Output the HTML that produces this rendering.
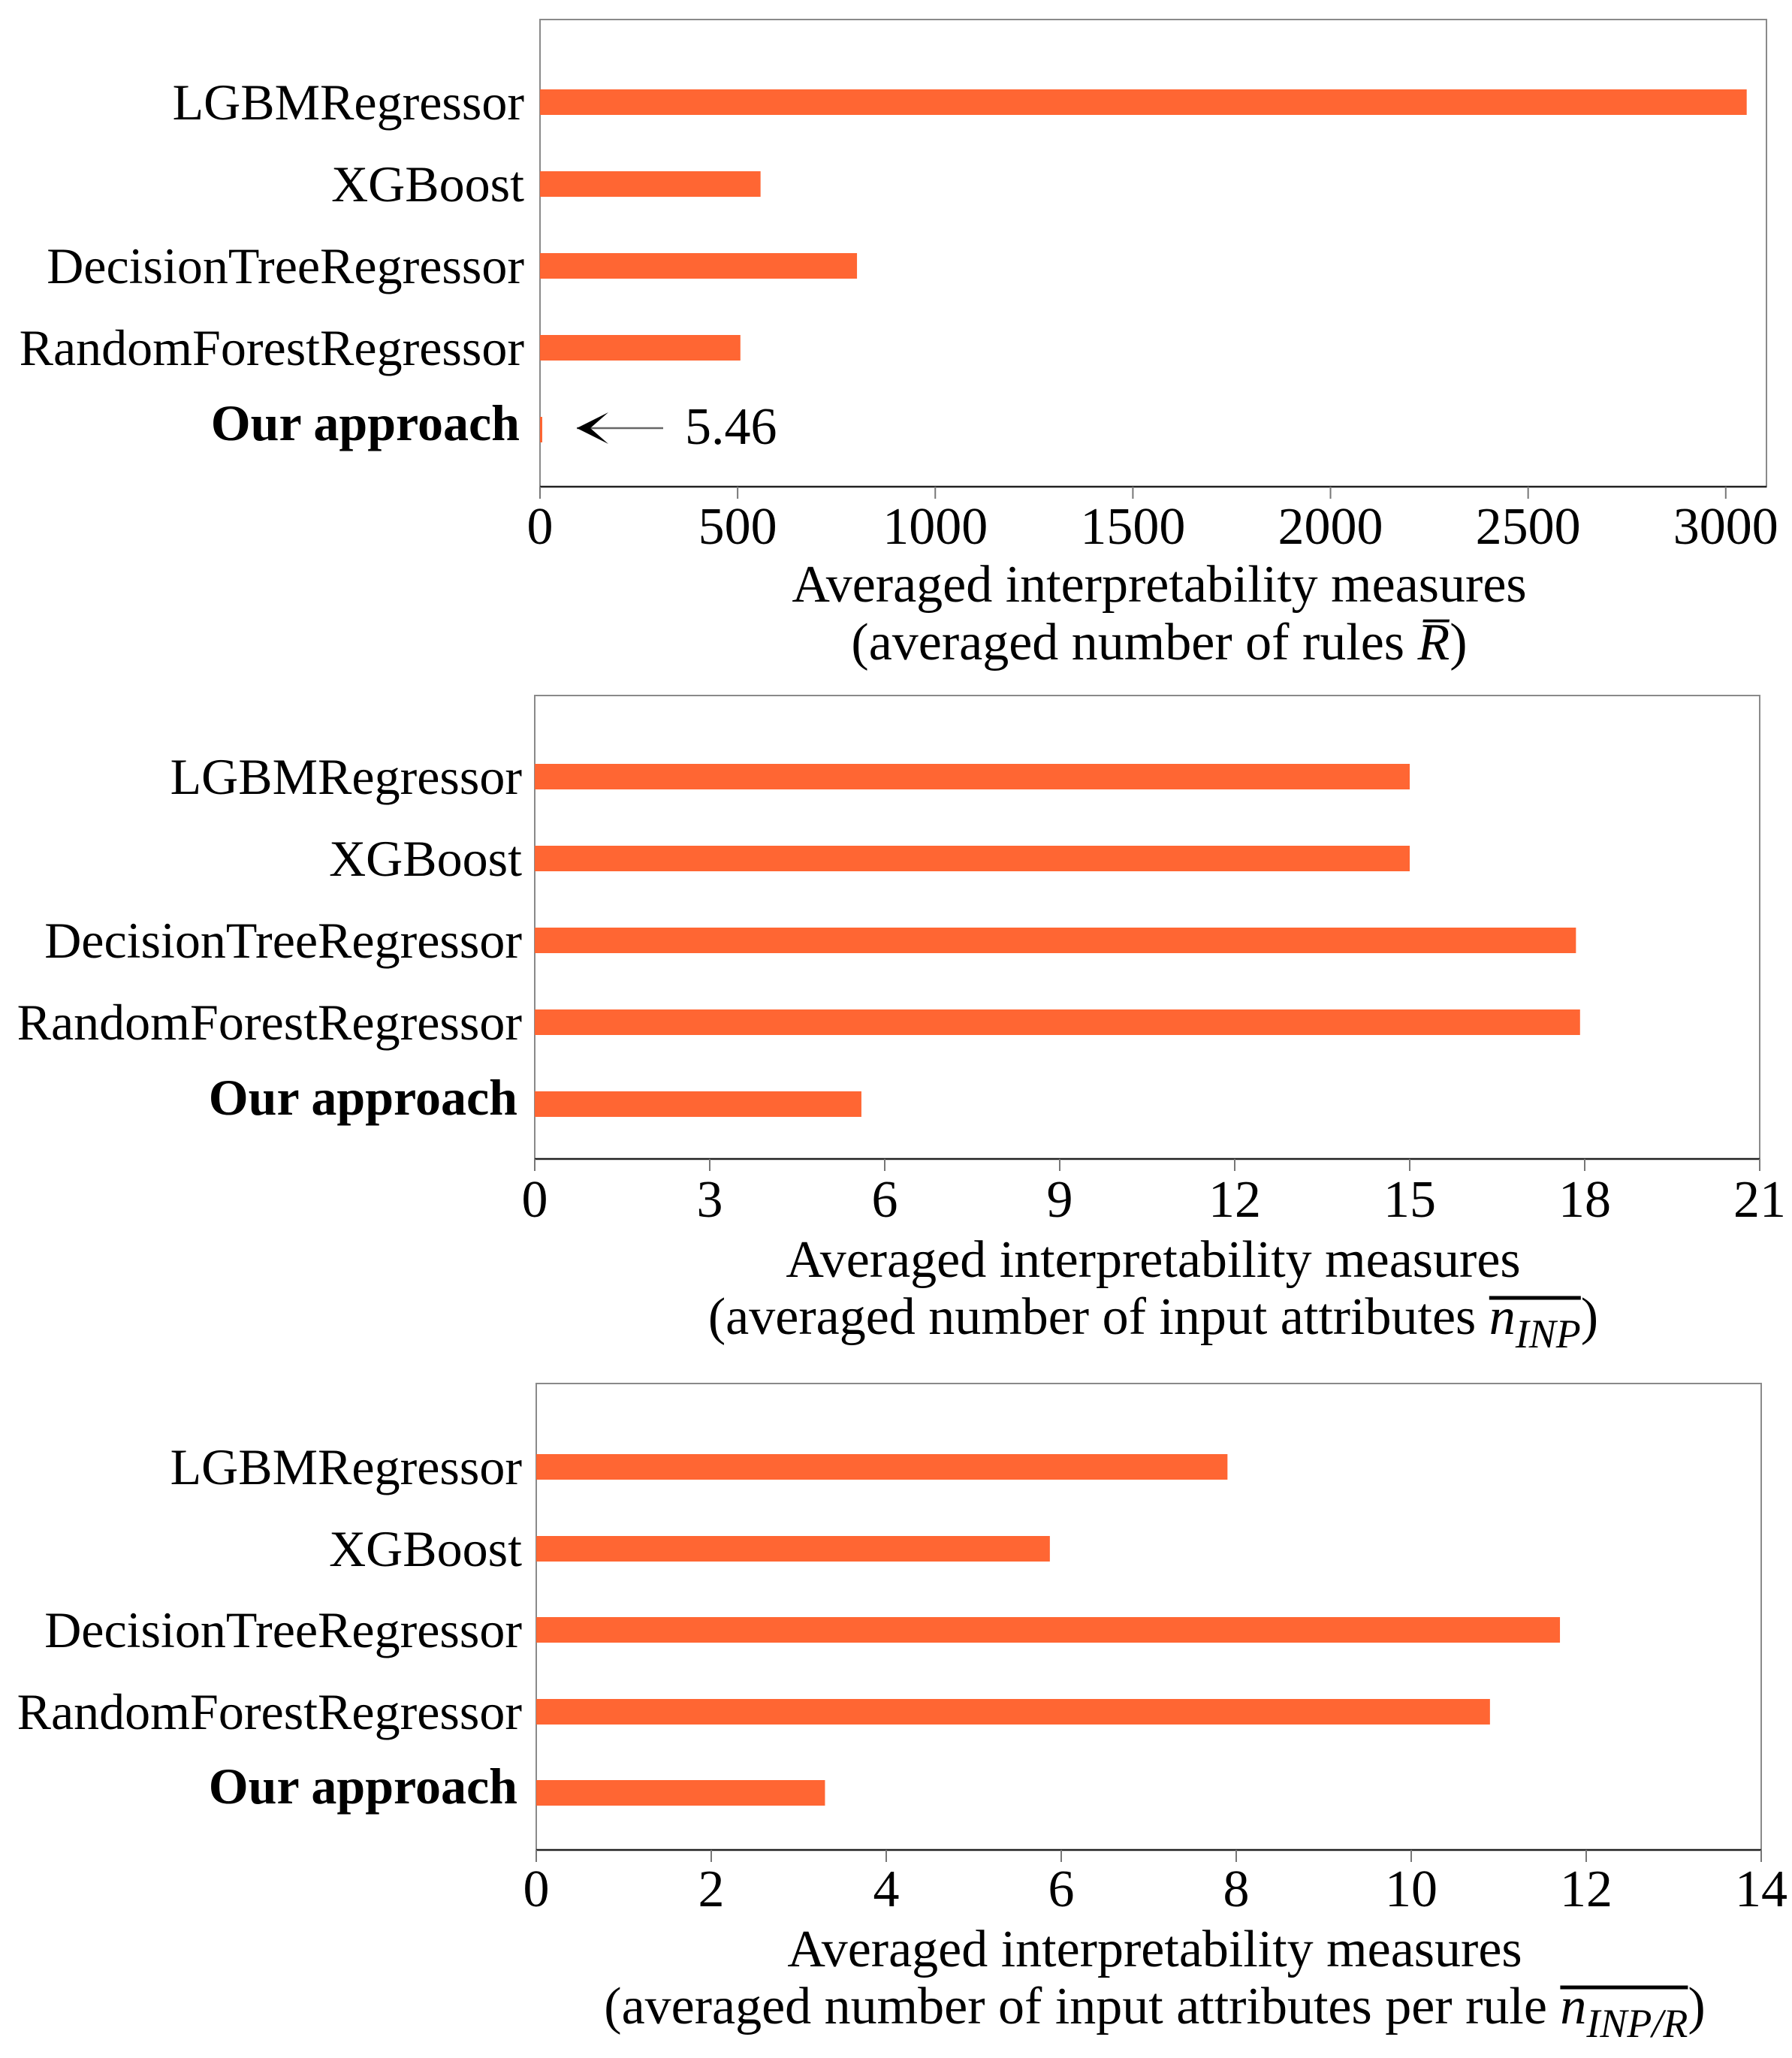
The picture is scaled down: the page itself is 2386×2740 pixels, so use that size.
<!DOCTYPE html>
<html><head><meta charset="utf-8"><style>
html,body{margin:0;padding:0;background:#fff;}
svg{display:block;font-family:"Liberation Serif",serif;}
</style></head><body>
<svg id="chart" width="2386" height="2740" viewBox="0 0 2386 2740" xmlns="http://www.w3.org/2000/svg"></svg>
<script>
const categories = ["LGBMRegressor","XGBoost","DecisionTreeRegressor","RandomForestRegressor","Our approach"];
const rulesValues = [3053, 558, 802, 507, 5.46];
const inpValues = [15.0, 15.0, 17.85, 17.92, 5.6];
const inpPerRuleValues = [7.9, 5.87, 11.7, 10.9, 3.3];
const rulesTicks = [0,500,1000,1500,2000,2500,3000];
const inpTicks = [0,3,6,9,12,15,18,21];
const inpPerRuleTicks = [0,2,4,6,8,10,12,14];

const NS = "http://www.w3.org/2000/svg";
const svg = document.getElementById('chart');
function mk(tag, attrs, parent, text){
  const e = document.createElementNS(NS, tag);
  for (const k in attrs) e.setAttribute(k, attrs[k]);
  if (text !== undefined) e.textContent = text;
  (parent||svg).appendChild(e);
  return e;
}

const panels = [
  {name:'rules', values:rulesValues, ticks:rulesTicks, max:3103, left:719, right:2352, top:26, bottom:648, centers:[136,245,354,463,572], labelX:698, tickY:724, t1:801, t2:878},
  {name:'inputs', values:inpValues, ticks:inpTicks, max:21, left:712, right:2343, top:926, bottom:1543, centers:[1034,1143,1252,1361,1470], labelX:695, tickY:1620, t1:1700, t2:1776},
  {name:'inputs-per-rule', values:inpPerRuleValues, ticks:inpPerRuleTicks, max:14, left:714, right:2345, top:1842, bottom:2463, centers:[1953,2062,2170,2279,2387], labelX:695, tickY:2538, t1:2618, t2:2694}
];

panels.forEach((p, pi) => {
  const g = mk('g', {}, svg);
  
  
  const x = v => p.left + (v / p.max) * (p.right - p.left);
  const fr = mk('rect', {x:p.left, y:p.top, width:p.right-p.left, height:p.bottom-p.top, fill:'none', stroke:'#8a8a8a', 'stroke-width':2}, g);
  
  
  const ax = mk('line', {x1:p.left, x2:p.right, y1:p.bottom, y2:p.bottom, stroke:'#222', 'stroke-width':2.5}, g);
  
  
  categories.forEach((c, i) => {
    const w = Math.max(x(p.values[i]) - p.left, 3);
    const b = mk('rect', {x:p.left, y:p.centers[i]-17, width:w, height:34, fill:'#FF6633'}, g);
    
    
    const bold = i === 4;
    const t = mk('text', {x:p.labelX - (bold?6:0), y:p.centers[i] + (bold?14:23), 'text-anchor':'end', 'font-size':68, 'font-weight':bold?'bold':'normal', fill:'#000'}, g, c);
    
    
  });
  p.ticks.forEach(v => {
    const tl = mk('line', {x1:x(v), x2:x(v), y1:p.bottom, y2:p.bottom+16, stroke:'#777', 'stroke-width':2}, g);
    
    
    const tt = mk('text', {x:x(v), y:p.tickY, 'text-anchor':'middle', 'font-size':70, fill:'#000'}, g, String(v));
    
    
  });
  const cx = (p.left + p.right) / 2 + 8;
  const t1 = mk('text', {x:cx, y:p.t1, 'text-anchor':'middle', 'font-size':70, fill:'#000'}, g, 'Averaged interpretability measures');
  
  
  const t2 = mk('text', {x:cx, y:p.t2, 'text-anchor':'middle', 'font-size':70, fill:'#000'}, g);
  
  
  if (pi === 0) {
    mk('tspan', {}, t2, '(averaged number of rules ');
    mk('tspan', {'font-style':'italic'}, t2, 'R\u0305');
    mk('tspan', {}, t2, ')');
  } else {
    mk('tspan', {}, t2, pi === 1 ? '(averaged number of input attributes ' : '(averaged number of input attributes per rule ');
    mk('tspan', {'font-style':'italic'}, t2, 'n');
    mk('tspan', {'font-style':'italic', 'font-size':54, dy:18}, t2, pi === 1 ? 'INP' : 'INP/R');
    mk('tspan', {dy:-18}, t2, ')');
    const total = t2.getNumberOfChars();
    const str = t2.textContent;
    const iN = str.lastIndexOf('n', str.length - (pi===1?5:7));
    const startN = t2.getStartPositionOfChar(iN).x;
    const endSub = t2.getEndPositionOfChar(total - 2).x;
    const ol = mk('line', {x1:startN, x2:endSub, y1:p.t2 - 48, y2:p.t2 - 48, stroke:'#000', 'stroke-width':5}, g);
    
    
  }
  if (pi === 0) {
    const y = p.centers[4] - 2;
    const al = mk('line', {x1:768, x2:883, y1:y, y2:y, stroke:'#666', 'stroke-width':2.5}, g);
    
    
    const ah = mk('path', {d:`M768 ${y} L810 ${y-21} L786 ${y} L810 ${y+21} Z`, fill:'#000'}, g);
    
    
    const at = mk('text', {x:912, y:591, 'font-size':70, fill:'#000'}, g, String(rulesValues[4]));
    
    
  }
});
</script>
</body></html>
